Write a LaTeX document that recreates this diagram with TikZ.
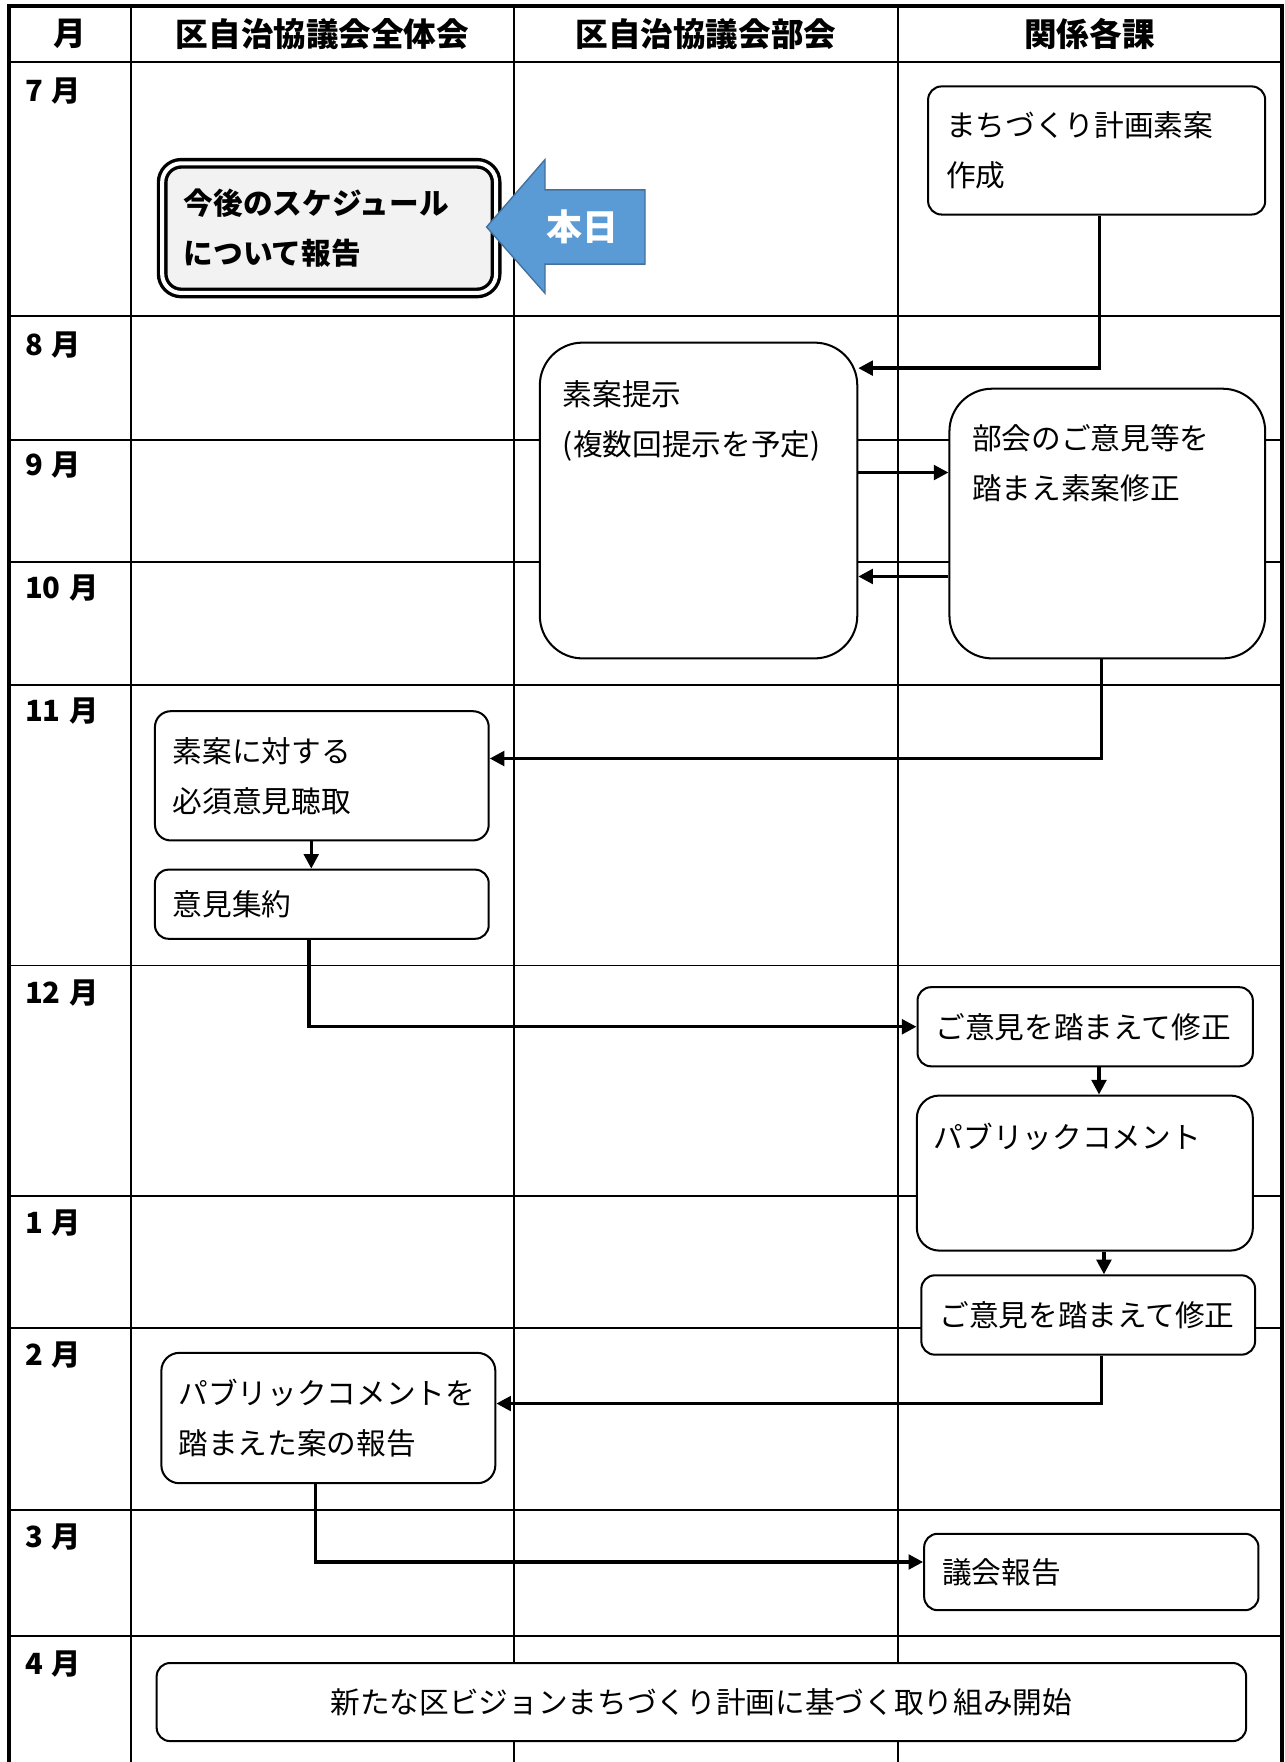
\documentclass[tikz,border=0pt]{standalone}
\usepackage{fontspec}
\newfontfamily\cjk{Noto Sans CJK JP}
\usepackage{tikz}
\usetikzlibrary{arrows.meta}
\definecolor{todayblue}{HTML}{5B9BD5}
\definecolor{todayline}{HTML}{41719C}
\definecolor{notegray}{HTML}{F2F2F2}

\begin{document}
\begin{tikzpicture}[x=1pt, y=-1pt,
        grid/.style={black, line width=0.85pt},
        head/.style={font=\cjk\bfseries\fontsize{14.5pt}{17pt}\selectfont},
        month/.style={anchor=west, inner sep=0pt, font=\cjk\bfseries\fontsize{13pt}{15pt}\selectfont},
        box/.style={draw, line width=0.9pt, fill=white, rounded corners=6pt, anchor=north west, align=left, inner xsep=8pt, inner ysep=0pt, font=\cjk\fontsize{13.2pt}{22.2pt}\selectfont},
        tallbox/.style={box, rounded corners=19pt},
        note/.style={anchor=north west, inner sep=0pt, align=left, font=\cjk\fontsize{13.2pt}{22.2pt}\selectfont},
        flow/.style={line width=1.5pt, -{Triangle[length=6.5pt, width=6.5pt]}}]

        \useasboundingbox (0,0) rectangle (571.5,784);

        \draw[grid] (4,27.4) -- (570.25,27.4);
        \draw[grid] (4,140.8) -- (570.25,140.8);
        \draw[grid] (4,195.7) -- (570.25,195.7);
        \draw[grid] (4,250.1) -- (570.25,250.1);
        \draw[grid] (4,304.7) -- (570.25,304.7);
        \draw[grid] (4,429.6) -- (570.25,429.6);
        \draw[grid] (4,532.3) -- (570.25,532.3);
        \draw[grid] (4,590.8) -- (570.25,590.8);
        \draw[grid] (4,671.7) -- (570.25,671.7);
        \draw[grid] (4,727.8) -- (570.25,727.8);
        \draw[grid] (58.1,2.5) -- (58.1,784);
        \draw[grid] (228.8,2.5) -- (228.8,784);
        \draw[grid] (399.4,2.5) -- (399.4,784);
        \draw[black, line width=1.8pt] (4,784) -- (4,2.5) -- (570.25,2.5) -- (570.25,784);

        \node[head] (h-month) at (31,15) {月};
        \node[head] (h-all) at (143.5,15) {区自治協議会全体会};
        \node[head] (h-part) at (314.1,15) {区自治協議会部会};
        \node[head] (h-dept) at (484.8,15) {関係各課};

        \node[month] (m7) at (11,40.5) {7\hspace{0.3em}月};
        \node[month] (m8) at (11,153.5) {8\hspace{0.3em}月};
        \node[month] (m9) at (11,207) {9\hspace{0.3em}月};
        \node[month] (m10) at (11,261.5) {10\hspace{0.3em}月};
        \node[month] (m11) at (11,316.5) {11\hspace{0.3em}月};
        \node[month] (m12) at (11,441.8) {12\hspace{0.3em}月};
        \node[month] (m1) at (11,544) {1\hspace{0.3em}月};
        \node[month] (m2) at (11,602.8) {2\hspace{0.3em}月};
        \node[month] (m3) at (11,684) {3\hspace{0.3em}月};
        \node[month] (m4) at (11,740.5) {4\hspace{0.3em}月};

        \node[box, line width=1.5pt, double=white, double distance=1.8pt, fill=notegray, rounded corners=8.5pt, inner xsep=9.6pt, text width=129.4pt, minimum height=57.7pt, font=\cjk\bfseries\fontsize{13.2pt}{22.2pt}\selectfont] (report) at (71.4,71.9) {今後のスケジュール\\について報告};

        \filldraw[fill=todayblue, draw=todayline, line width=0.6pt] (216.5,101) -- (242.5,71) -- (242.5,84.5) -- (287,84.5) -- (287,117.5) -- (242.5,117.5) -- (242.5,130.5) -- cycle;
        \node[text=white, font=\cjk\bfseries\fontsize{16pt}{19pt}\selectfont] (today) at (259,101) {本日};

        \node[box, text width=134pt, minimum height=57pt] (plan) at (412.5,38) {まちづくり計画素案\\作成};

        \node[tallbox, minimum width=141.25pt, minimum height=140.5pt] (draft) at (239.75,152) {};
        \node[note] (draft-t) at (250.3,169.1) {素案提示\\(複数回提示を予定)};

        \node[tallbox, minimum width=140.5pt, minimum height=120pt] (revise) at (422,172.5) {};
        \node[note] (revise-t) at (432.3,188.6) {部会のご意見等を\\踏まえ素案修正};

        \node[box, rounded corners=7pt, text width=132.5pt, minimum height=57.5pt] (hear) at (68.5,316) {素案に対する\\必須意見聴取};
        \node[box, text width=132.5pt, minimum height=30.75pt] (gather) at (68.5,386.5) {意見集約};

        \node[box, text width=133.2pt, minimum height=35.2pt] (fix1) at (407.8,438.8) {ご意見を踏まえて修正};
        \node[box, rounded corners=10pt, minimum width=149.5pt, minimum height=69pt] (pubcom) at (407.5,487) {};
        \node[note] (pubcom-t) at (415.3,499.6) {パブリックコメント};
        \node[box, text width=132.5pt, minimum height=35.3pt] (fix2) at (409.5,567) {ご意見を踏まえて修正};

        \node[box, rounded corners=8pt, inner xsep=7.6pt, text width=133.4pt, minimum height=58pt] (report2) at (71.35,601.5) {パブリックコメントを\\踏まえた案の報告};
        \node[box, text width=132.75pt, minimum height=34pt] (council) at (410.75,682) {議会報告};

        \node[box, align=center, text width=468.75pt, minimum height=34.75pt] (start) at (69.25,739.5) {新たな区ビジョンまちづくり計画に基づく取り組み開始};

        \draw[flow] (plan.south -| 489.35,0) |- (draft.north east |- 0,163.8);
        \draw[flow] (draft.east |- 0,210.25) -- (revise.west |- 0,210.25);
        \draw[flow] (revise.west |- 0,256.5) -- (draft.east |- 0,256.5);
        \draw[flow] (revise.south -| 490,0) |- (hear.east |- 0,337.5);
        \draw[flow] (hear.south -| 138.5,0) -- (gather.north -| 138.5,0);
        \draw[flow] (gather.south -| 137.5,0) |- (fix1.west);
        \draw[flow] (fix1.south -| 489,0) -- (pubcom.north -| 489,0);
        \draw[flow] (pubcom.south -| 491.2,0) -- (fix2.north -| 491.2,0);
        \draw[flow] (fix2.south -| 490,0) |- (report2.east |- 0,624.5);
        \draw[flow] (report2.south -| 140.25,0) |- (council.west |- 0,695);

\end{tikzpicture}
\end{document}
